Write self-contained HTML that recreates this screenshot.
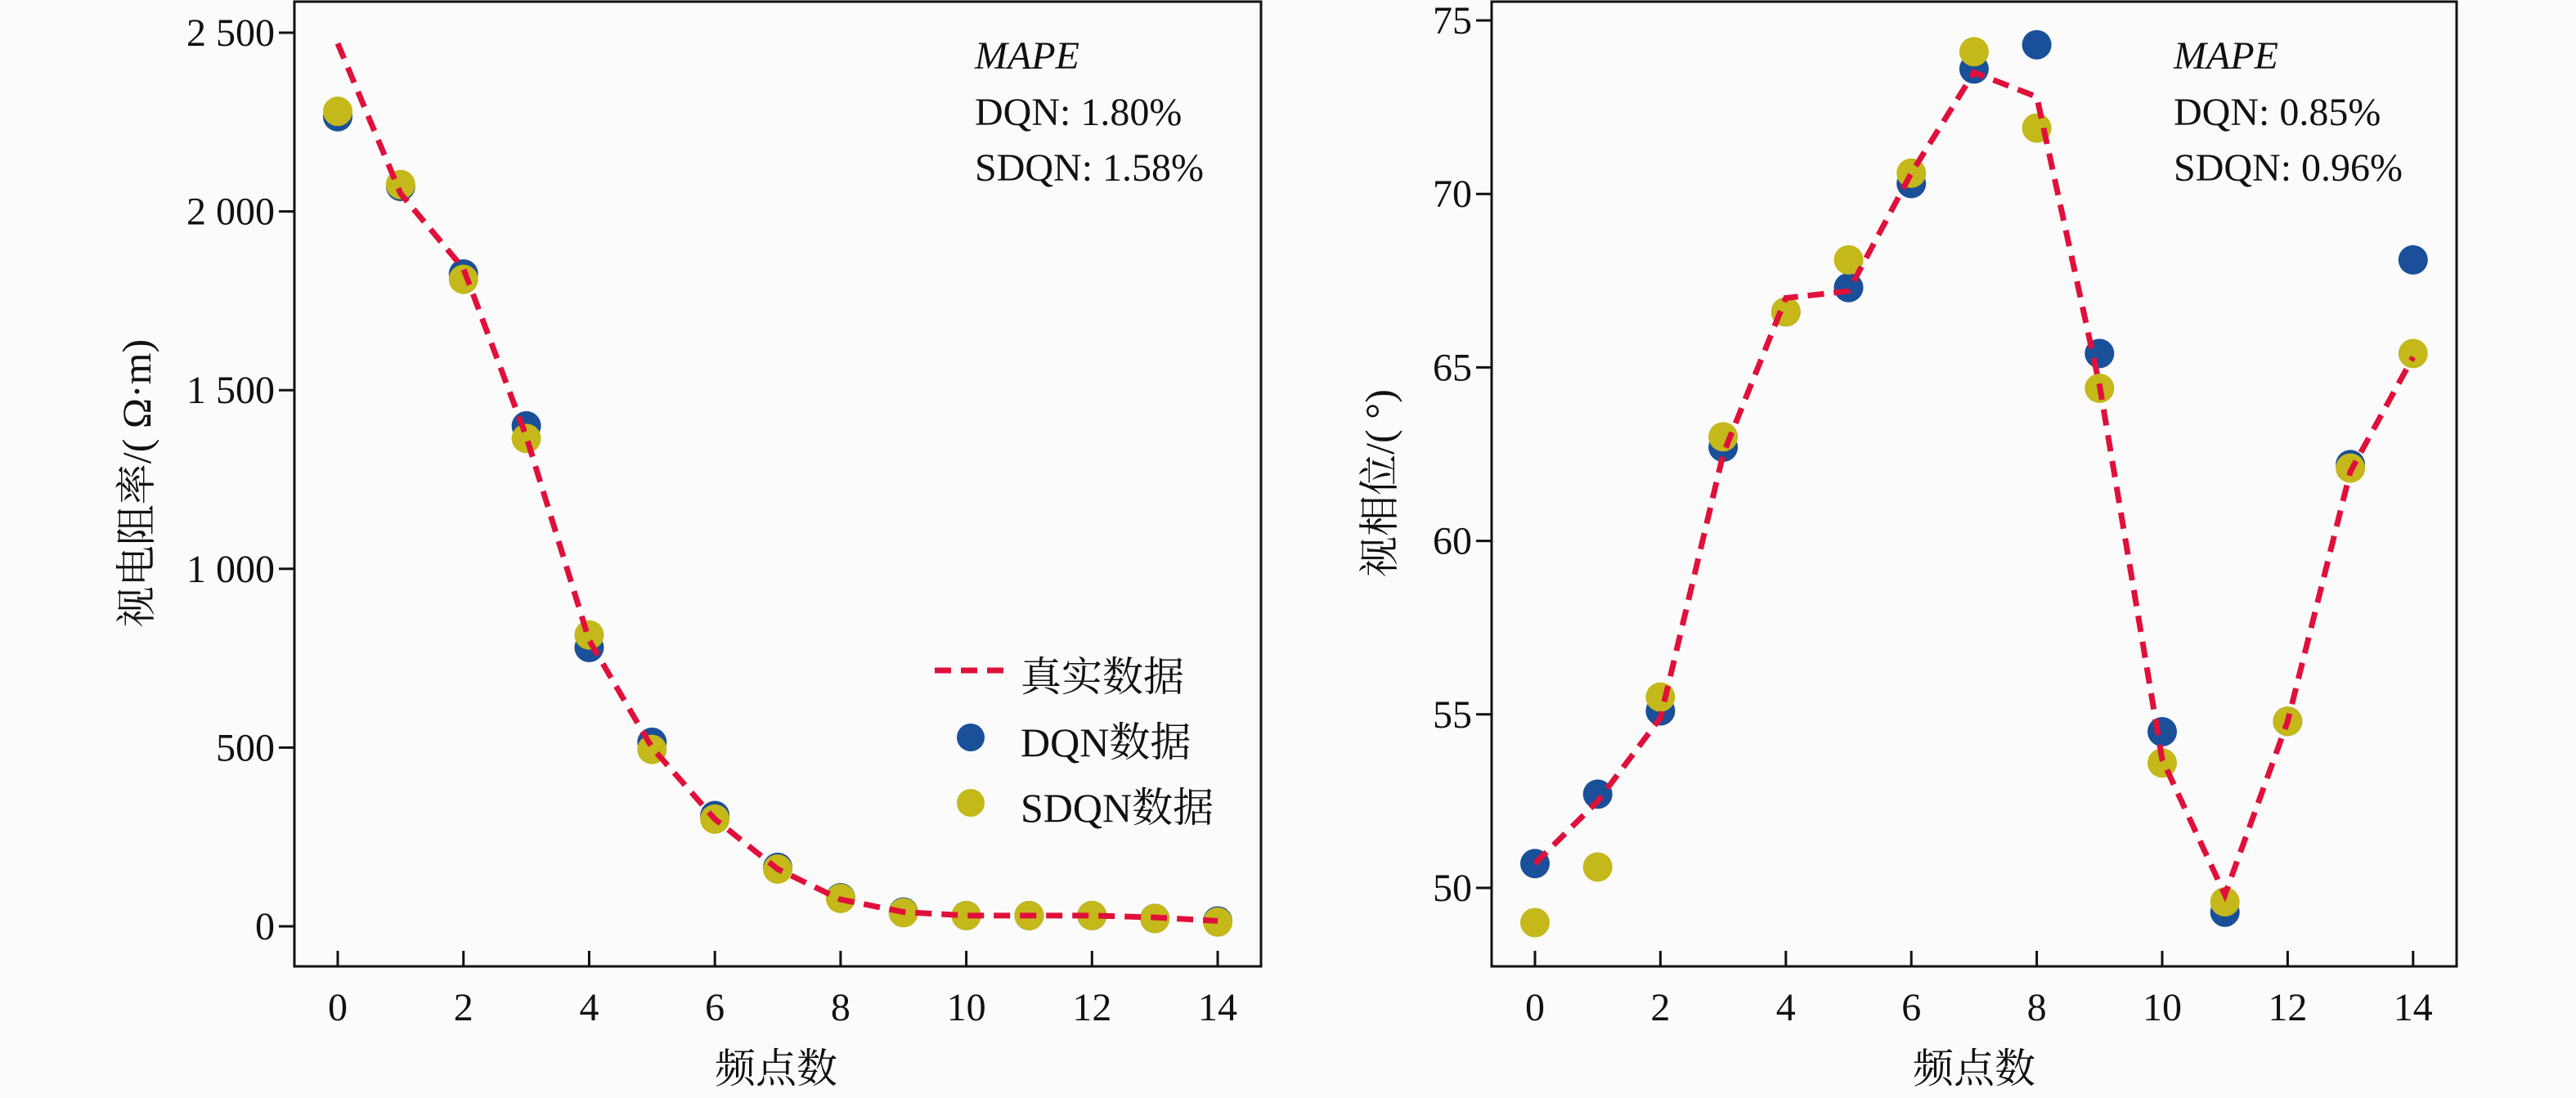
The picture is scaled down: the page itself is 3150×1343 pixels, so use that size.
<!DOCTYPE html>
<html><head><meta charset="utf-8"><style>
html,body{margin:0;padding:0;background:#fbfbfb;}
svg{display:block;}
svg text{font-family:"Liberation Serif","Times New Roman","Noto Serif CJK SC",serif !important;fill:#111;}
</style></head><body>
<svg id="s" width="3150" height="1343" viewBox="0 0 3150 1343" xmlns="http://www.w3.org/2000/svg" font-family="Liberation Serif, Noto Serif CJK SC, serif">
<rect width="3150" height="1343" fill="#fbfbfb"/>
<g id="g"></g>
<text x="1192" y="84" font-size="48" font-style="italic">MAPE</text>
<text x="1192" y="153" font-size="48">DQN: 1.80%</text>
<text x="1192" y="221" font-size="48">SDQN: 1.58%</text>
<line x1="1143" y1="820" x2="1230" y2="820" stroke="#e0103a" stroke-width="7" stroke-dasharray="20,12"/>
<text x="1248" y="845" font-size="50">真实数据</text>
<circle cx="1187" cy="902" r="17" fill="#1a4f9a"/>
<text x="1248" y="925" font-size="50">DQN数据</text>
<circle cx="1187" cy="982" r="17" fill="#c4b81a"/>
<text x="1248" y="1005" font-size="50">SDQN数据</text>
<text x="949" y="1324" font-size="50" text-anchor="middle">频点数</text>
<text transform="translate(184,591) rotate(-90)" font-size="50" text-anchor="middle">视电阻率/( Ω·m)</text>
<text x="2658" y="84" font-size="48" font-style="italic">MAPE</text>
<text x="2658" y="153" font-size="48">DQN: 0.85%</text>
<text x="2658" y="221" font-size="48">SDQN: 0.96%</text>
<text x="2414" y="1324" font-size="50" text-anchor="middle">频点数</text>
<text transform="translate(1704,591) rotate(-90)" font-size="50" text-anchor="middle">视相位/( °)</text>
</svg>
<script>
var NS="http://www.w3.org/2000/svg",g=document.getElementById('g');
function el(t,a,txt){var e=document.createElementNS(NS,t);for(var k in a)e.setAttribute(k,a[k]);if(txt!==undefined)e.textContent=txt;g.appendChild(e);return e;}
function plot(o){
  var X=function(i){return o.x0+i*o.dx;},Y=function(v){return o.y0+(v-o.v0)*o.dy;};
  for(var i=0;i<=14;i+=2){el('line',{x1:X(i),y1:1182,x2:X(i),y2:1163,stroke:'#111','stroke-width':3});
    el('text',{x:X(i),y:1248,'font-size':48,'text-anchor':'middle'},String(i));}
  o.yt.forEach(function(t){var y=Y(t[0]);el('line',{x1:o.L-19,y1:y,x2:o.L,y2:y,stroke:'#111','stroke-width':3});
    el('text',{x:o.L-24,y:y+16,'font-size':48,'text-anchor':'end'},t[1]);});
  var pts=o.t.map(function(v,i){return X(i)+','+Y(v);}).join(' ');
  o.d.forEach(function(v,i){el('circle',{cx:X(i),cy:Y(v),r:18,fill:'#1a4f9a'});});
  o.s.forEach(function(v,i){el('circle',{cx:X(i),cy:Y(v),r:18,fill:'#c4b81a'});});
  el('polyline',{points:pts,fill:'none',stroke:'#e0103a','stroke-width':7,'stroke-dasharray':'20,12'});
  el('rect',{x:o.L,y:2,width:o.R-o.L,height:1180,fill:'none',stroke:'#111','stroke-width':3});
}
plot({L:360,R:1542,x0:413,dx:76.86,y0:1133,v0:0,dy:-218.6/500,
 yt:[[0,'0'],[500,'500'],[1000,'1 000'],[1500,'1 500'],[2000,'2 000'],[2500,'2 500']],
 t:[2470,2050,1840,1370,800,500,300,160,75,40,30,30,30,25,15],
 d:[2265,2070,1825,1400,780,515,310,165,80,40,30,30,30,22,15],
 s:[2280,2075,1810,1365,815,495,300,160,78,38,30,30,30,22,12]});
plot({L:1824,R:3004,x0:1877,dx:76.7,y0:1086,v0:50,dy:-212.2/5,
 yt:[[50,'50'],[55,'55'],[60,'60'],[65,'65'],[70,'70'],[75,'75']],
 t:[50.7,52.5,54.9,62.5,67.0,67.2,70.6,73.5,72.8,64.5,53.7,49.8,54.8,62.0,65.3],
 d:[50.7,52.7,55.1,62.7,66.6,67.3,70.3,73.6,74.3,65.4,54.5,49.3,54.8,62.2,68.1],
 s:[49.0,50.6,55.5,63.0,66.6,68.1,70.6,74.1,71.9,64.4,53.6,49.6,54.8,62.1,65.4]});
</script>
</body></html>
